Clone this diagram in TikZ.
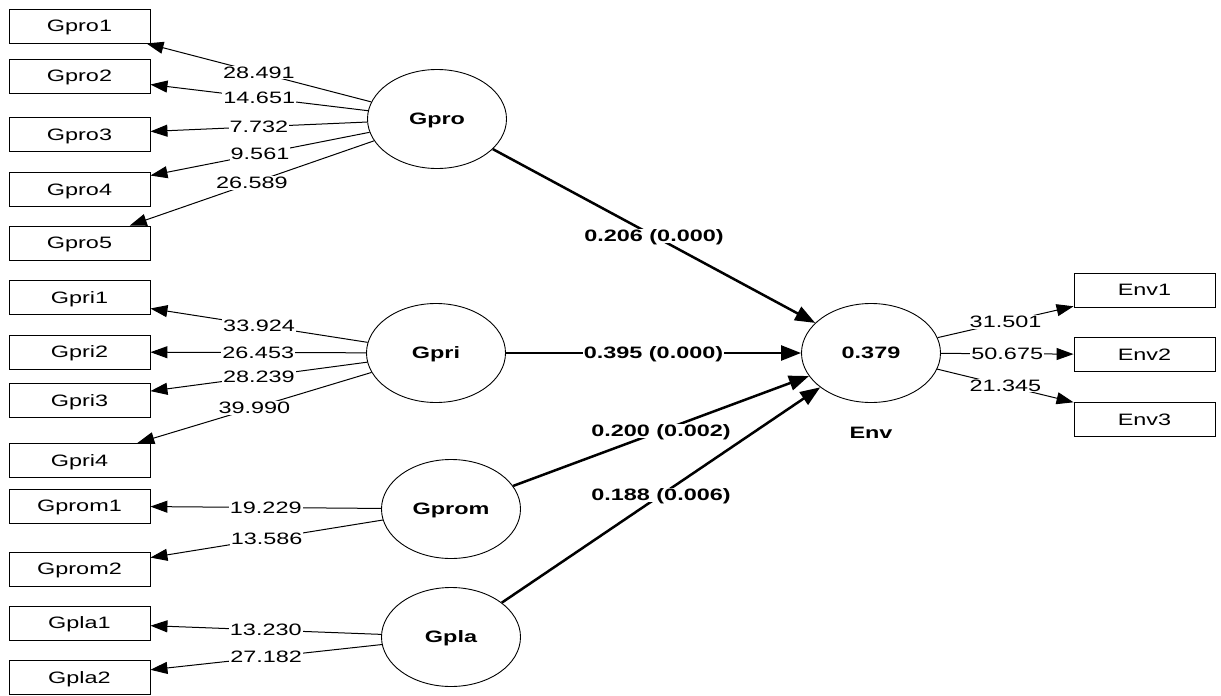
\documentclass[tikz,border=0pt]{standalone}
\usepackage{fontspec}
\setmainfont{Liberation Sans}[FakeStretch=1.42]
\usetikzlibrary{shapes.geometric,arrows.meta}
\begin{document}
\begin{tikzpicture}[x=1pt,y=-1pt,
  every node/.style={font=\fontsize{16.5}{19}\selectfont, text depth=0pt},
  ind/.style={draw, line width=0.9pt, minimum width=141pt, minimum height=34pt, inner sep=0pt},
  lat/.style={draw, ellipse, line width=0.9pt, inner sep=0pt, minimum width=139pt, minimum height=99pt, font=\fontsize{16.5}{19}\selectfont\bfseries},
  ld/.style={line width=1pt, -{Triangle[length=17pt,width=12pt]}},
  sp/.style={line width=2.5pt, -{Triangle[length=20pt,width=15pt]}},
  lab/.style={fill=white, inner sep=1pt},
  blab/.style={fill=white, inner sep=1pt, font=\fontsize{16.5}{19}\selectfont\bfseries}
]
\useasboundingbox (0,0) rectangle (1221,696);
% indicators
\node[ind] (Gpro1) at (79.5,26) {Gpro1};
\node[ind] (Gpro2) at (79.5,76) {Gpro2};
\node[ind] (Gpro3) at (79.5,134.5) {Gpro3};
\node[ind] (Gpro4) at (79.5,189.5) {Gpro4};
\node[ind] (Gpro5) at (79.5,243) {Gpro5};
\node[ind] (Gpri1) at (79.5,297.5) {Gpri1};
\node[ind] (Gpri2) at (79.5,352) {Gpri2};
\node[ind] (Gpri3) at (79.5,400.5) {Gpri3};
\node[ind] (Gpri4) at (79.5,460.5) {Gpri4};
\node[ind] (Gprom1) at (79.5,506) {Gprom1};
\node[ind] (Gprom2) at (79.5,569) {Gprom2};
\node[ind] (Gpla1) at (79.5,623) {Gpla1};
\node[ind] (Gpla2) at (79.5,677.5) {Gpla2};
\node[ind] (Env1) at (1144.5,290) {Env1};
\node[ind] (Env2) at (1144.5,354.5) {Env2};
\node[ind] (Env3) at (1144.5,419.5) {Env3};
% latent
\node[lat] (Gpro) at (437,119) {Gpro};
\node[lat] (Gpri) at (436,353) {Gpri};
\node[lat] (Gprom) at (451,509) {Gprom};
\node[lat] (Gpla) at (451,637) {Gpla};
\node[lat] (Env) at (871,353) {0.379};
\node[font=\fontsize{16.5}{19}\selectfont\bfseries] (EnvL) at (871,433) {Env};
% loadings
\draw[ld] (Gpro) -- node[lab]{28.491} (Gpro1);
\draw[ld] (Gpro) -- node[lab]{14.651} (Gpro2);
\draw[ld] (Gpro) -- node[lab]{7.732} (Gpro3);
\draw[ld] (Gpro) -- node[lab]{9.561} (Gpro4);
\draw[ld] (Gpro) -- node[lab]{26.589} (Gpro5);
\draw[ld] (Gpri) -- node[lab]{33.924} (Gpri1);
\draw[ld] (Gpri) -- node[lab]{26.453} (Gpri2);
\draw[ld] (Gpri) -- node[lab]{28.239} (Gpri3);
\draw[ld] (Gpri) -- node[lab]{39.990} (Gpri4);
\draw[ld] (Gprom) -- node[lab]{19.229} (Gprom1);
\draw[ld] (Gprom) -- node[lab]{13.586} (Gprom2);
\draw[ld] (Gpla) -- node[lab]{13.230} (Gpla1);
\draw[ld] (Gpla) -- node[lab]{27.182} (Gpla2);
\draw[ld] (Env) -- node[lab]{31.501} (Env1);
\draw[ld] (Env) -- node[lab]{50.675} (Env2);
\draw[ld] (Env) -- node[lab]{21.345} (Env3);
% paths
\draw[sp] (Gpro) -- node[blab]{0.206 (0.000)} (Env);
\draw[sp] (Gpri) -- node[blab]{0.395 (0.000)} (Env);
\draw[sp] (Gprom) -- node[blab]{0.200 (0.002)} (Env);
\draw[sp] (Gpla) -- node[blab]{0.188 (0.006)} (Env);
\end{tikzpicture}
\end{document}
